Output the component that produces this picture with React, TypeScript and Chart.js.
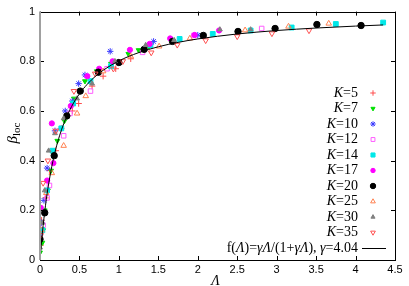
import React, { useEffect, useRef } from "react";
import { Chart, registerables } from "chart.js";
import { drawPoint } from "chart.js/helpers";

Chart.register(...registerables);

// ---- data (Λ, β_loc) ----
const kLabels = ["5", "7", "10", "12", "14", "17", "20", "25", "30", "35"];

const k5: [number, number][] = [[0.01, 0.06], [0.02, 0.16], [0.07, 0.25], [0.12, 0.36], [0.2, 0.44], [0.27, 0.53], [0.41, 0.6], [0.49, 0.63], [0.66, 0.7], [0.8, 0.74], [0.96, 0.77], [1.15, 0.81]];
const k7: [number, number][] = [[0, 0.03], [0.03, 0.07], [0.04, 0.12], [0.06, 0.2], [0.1, 0.28], [0.14, 0.36], [0.22, 0.48], [0.31, 0.56], [0.43, 0.65], [0.57, 0.72], [0.72, 0.76], [0.9, 0.79], [1.12, 0.83], [1.25, 0.845], [1.38, 0.86]];
const k10: [number, number][] = [[0, 0.1], [0.02, 0.15], [0.05, 0.24], [0.09, 0.37], [0.19, 0.52], [0.32, 0.6], [0.41, 0.64], [0.49, 0.71], [0.57, 0.745], [0.89, 0.84], [1.44, 0.88], [2.0, 0.905]];
const k12: [number, number][] = [[0.04, 0.14], [0.09, 0.25], [0.12, 0.3], [0.3, 0.5], [0.38, 0.59], [0.64, 0.68], [0.85, 0.77], [1.3, 0.836], [1.95, 0.904], [2.81, 0.932]];
const k14: [number, number][] = [[0.03, 0.12], [0.09, 0.28], [0.16, 0.44], [0.27, 0.53], [0.42, 0.63], [0.64, 0.72], [0.9, 0.78], [1.4, 0.865], [1.77, 0.89], [2.19, 0.91], [2.67, 0.924], [3.19, 0.936], [3.75, 0.95], [4.35, 0.956]];
const k17: [number, number][] = [[0.01, 0.21], [0.09, 0.32], [0.17, 0.39], [0.15, 0.55], [0.39, 0.62], [0.6, 0.74], [0.75, 0.77], [0.92, 0.8], [1.14, 0.846], [1.39, 0.87], [1.65, 0.892], [1.96, 0.906], [2.27, 0.924]];
const k20: [number, number][] = [[0, 0.084], [0.06, 0.19], [0.18, 0.42], [0.34, 0.58], [0.51, 0.68], [0.74, 0.756], [1.0, 0.795], [1.32, 0.848], [1.68, 0.88], [2.07, 0.904], [2.51, 0.92], [2.98, 0.932], [3.51, 0.948], [4.07, 0.944]];
const k25: [number, number][] = [[0.02, 0.12], [0.08, 0.27], [0.15, 0.35], [0.3, 0.46], [0.47, 0.59], [0.58, 0.66], [0.8, 0.76], [1.15, 0.82], [1.51, 0.86], [1.9, 0.892], [2.6, 0.925], [3.15, 0.94], [3.66, 0.952]];
const k30: [number, number][] = [[0, 0.05], [0.03, 0.15], [0.06, 0.28], [0.11, 0.44], [0.19, 0.51], [0.3, 0.57], [0.47, 0.65], [0.66, 0.71], [0.95, 0.8], [1.34, 0.865], [1.7, 0.885], [2.28, 0.928], [2.67, 0.928]];
const k35: [number, number][] = [[0.01, 0.1], [0.04, 0.31], [0.1, 0.4], [0.2, 0.52], [0.43, 0.68], [0.7, 0.75], [0.93, 0.77], [1.05, 0.8], [1.41, 0.835], [1.74, 0.866], [2.1, 0.884], [2.5, 0.9], [2.94, 0.912], [3.41, 0.924]];

// fitted curve f(Λ)=γΛ/(1+γΛ), γ=4.04 (values tabulated)
const fitLambda = [0, 0.01, 0.02, 0.04, 0.06, 0.08, 0.1, 0.15, 0.2, 0.25, 0.3, 0.4, 0.5, 0.6, 0.7, 0.8, 1.0, 1.25, 1.5, 1.75, 2.0, 2.5, 3.0, 3.5, 4.0, 4.35];
const fitBeta = [0, 0.0388, 0.0748, 0.1391, 0.1951, 0.2443, 0.2877, 0.3773, 0.4469, 0.5025, 0.5479, 0.6177, 0.6689, 0.7079, 0.7388, 0.7637, 0.8016, 0.8347, 0.8584, 0.8761, 0.8899, 0.9099, 0.9238, 0.9339, 0.9417, 0.9462];

const xTicks = [0, 0.5, 1, 1.5, 2, 2.5, 3, 3.5, 4, 4.5];
const yTicks = [0, 0.2, 0.4, 0.6, 0.8, 1];

const seriesData = [k5, k7, k10, k12, k14, k17, k20, k25, k30, k35];
const styles = [
  { color: "#ff4c4c", fill: false, pointStyle: "cross", radius: 3.2, rotation: 0 },
  { color: "#00e000", fill: true, pointStyle: "triangle", radius: 2.8, rotation: 180 },
  { color: "#3a3aff", fill: false, pointStyle: "star", radius: 3.2, rotation: 0 },
  { color: "#ff5cff", fill: false, pointStyle: "rect", radius: 3.2, rotation: 0 },
  { color: "#00e8e8", fill: true, pointStyle: "rect", radius: 3.4, rotation: 0 },
  { color: "#ff00ff", fill: true, pointStyle: "circle", radius: 2.6, rotation: 0 },
  { color: "#000000", fill: true, pointStyle: "circle", radius: 3.2, rotation: 0 },
  { color: "#ff8050", fill: false, pointStyle: "triangle", radius: 3.2, rotation: 0 },
  { color: "#808080", fill: true, pointStyle: "triangle", radius: 2.8, rotation: 0 },
  { color: "#ff5050", fill: false, pointStyle: "triangle", radius: 3.2, rotation: 180 },
];

const SERIF = "'Liberation Serif', 'Times New Roman', serif";
const SANS = "'Liberation Sans', Arial, sans-serif";
const CLEAR = "rgba(255,255,255,0)";

const framePlugin = {
  id: "frame",
  afterDraw(chart: any) {
    const ctx = chart.ctx;
    const { left, right, top, bottom } = chart.chartArea;
    const xs = chart.scales.x;
    const ys = chart.scales.y;
    ctx.save();
    // border
    ctx.strokeStyle = "#000";
    ctx.lineWidth = 1;
    ctx.strokeRect(Math.round(left) + 0.5, Math.round(top) + 0.5, Math.round(right - left), Math.round(bottom - top));
    // ticks inward
    const tl = 4;
    ctx.beginPath();
    xTicks.forEach((v) => {
      const px = Math.round(xs.getPixelForValue(v)) + 0.5;
      ctx.moveTo(px, bottom);
      ctx.lineTo(px, bottom - tl);
      ctx.moveTo(px, top);
      ctx.lineTo(px, top + tl);
    });
    yTicks.forEach((v) => {
      const py = Math.round(ys.getPixelForValue(v)) + 0.5;
      ctx.moveTo(left, py);
      ctx.lineTo(left + tl, py);
      ctx.moveTo(right, py);
      ctx.lineTo(right - tl, py);
    });
    ctx.stroke();
    // gray zero axis at Λ=0
    ctx.strokeStyle = "#a0a0a0";
    ctx.lineWidth = 2;
    ctx.beginPath();
    const x0 = xs.getPixelForValue(0);
    ctx.moveTo(x0, top);
    ctx.lineTo(x0, bottom);
    ctx.stroke();

    // legend
    const rightEdge = 358;
    const symX = 373;
    const rowY0 = 93;
    const rowH = 15.5;
    ctx.textBaseline = "middle";
    ctx.fillStyle = "#000";
    kLabels.forEach((k, i) => {
      const y = rowY0 + i * rowH;
      ctx.font = `14px ${SERIF}`;
      const rest = "=" + k;
      const w1 = ctx.measureText(rest).width;
      ctx.fillStyle = "#000";
      ctx.textAlign = "left";
      ctx.fillText(rest, rightEdge - w1, y);
      ctx.font = `italic 14px ${SERIF}`;
      const wk = ctx.measureText("K").width;
      ctx.fillText("K", rightEdge - w1 - wk, y);
      const s = styles[i];
      ctx.strokeStyle = s.color;
      ctx.fillStyle = s.fill ? s.color : CLEAR;
      ctx.lineWidth = 1;
      drawPoint(ctx, { pointStyle: s.pointStyle, rotation: s.rotation, radius: s.radius * 0.85, borderWidth: 1 } as any, symX, y);
    });
    // fit legend
    const fy = rowY0 + kLabels.length * rowH;
    const parts: [string, boolean][] = [["f(", false], ["Λ", true], [")=", false], ["γΛ", true], ["/(1+", false], ["γΛ", true], ["), ", false], ["γ", true], ["=4.04", false]];
    let total = 0;
    const widths = parts.map(([t, it]) => {
      ctx.font = `${it ? "italic " : ""}14px ${SERIF}`;
      const w = ctx.measureText(t).width;
      total += w;
      return w;
    });
    let cx = rightEdge - total;
    ctx.fillStyle = "#000";
    ctx.textAlign = "left";
    parts.forEach(([t, it], i) => {
      ctx.font = `${it ? "italic " : ""}14px ${SERIF}`;
      ctx.fillText(t, cx, fy);
      cx += widths[i];
    });
    ctx.strokeStyle = "#000";
    ctx.lineWidth = 1;
    ctx.beginPath();
    ctx.moveTo(362, Math.round(fy) + 0.5);
    ctx.lineTo(386, Math.round(fy) + 0.5);
    ctx.stroke();

    // axis titles
    ctx.fillStyle = "#000";
    ctx.font = `italic 14px ${SERIF}`;
    ctx.textAlign = "center";
    ctx.textBaseline = "alphabetic";
    ctx.fillText("Λ", (left + right) / 2 - 2, 285);

    ctx.save();
    ctx.translate(13, 133);
    ctx.rotate(-Math.PI / 2);
    ctx.textBaseline = "middle";
    ctx.font = `italic 15px ${SERIF}`;
    const wb = ctx.measureText("β").width;
    ctx.font = `11px ${SERIF}`;
    const wl = ctx.measureText("loc").width;
    const start = -(wb + wl) / 2;
    ctx.textAlign = "left";
    ctx.font = `italic 15px ${SERIF}`;
    ctx.fillText("β", start, 0);
    ctx.font = `11px ${SERIF}`;
    ctx.fillText("loc", start + wb, 4);
    ctx.restore();

    ctx.restore();
  },
};

export default function App() {
  const ref = useRef<HTMLCanvasElement | null>(null);
  useEffect(() => {
    if (!ref.current) return;
    const datasets: any[] = [
      {
        label: "fit",
        data: fitLambda.map((x, i) => ({ x, y: fitBeta[i] })),
        showLine: true,
        borderColor: "#000",
        borderWidth: 1,
        pointRadius: 0,
        cubicInterpolationMode: "monotone",
        order: 0,
      },
    ];
    seriesData.forEach((d, i) => {
      const s = styles[i];
      const bg = s.fill ? s.color : CLEAR;
      datasets.push({
        label: "K=" + kLabels[i],
        data: d.map(([x, y]) => ({ x, y })),
        pointStyle: s.pointStyle,
        pointRotation: s.rotation,
        rotation: s.rotation,
        pointRadius: s.radius,
        borderColor: s.color,
        pointBorderColor: s.color,
        backgroundColor: bg,
        pointBackgroundColor: bg,
        borderWidth: 1,
        pointBorderWidth: 1,
        showLine: false,
        order: 10 - i,
      });
    });
    const chart = new Chart(ref.current, {
      type: "scatter",
      data: { datasets },
      options: {
        animation: false,
        responsive: false,
        events: [],
        layout: { padding: { left: 0, right: 14, top: 10, bottom: 0 } },
        plugins: { legend: { display: false }, tooltip: { enabled: false } },
        scales: {
          x: {
            type: "linear",
            min: 0,
            max: 4.5,
            afterFit: (s: any) => { s.height = 26; },
            afterBuildTicks: (s: any) => { s.ticks = xTicks.map((v) => ({ value: v })); },
            grid: { display: false, drawTicks: false },
            border: { display: false },
            ticks: {
              autoSkip: false,
              maxRotation: 0,
              padding: 3,
              color: "#000",
              font: { family: SANS, size: 11 },
              callback: (v: any) => String(Math.round(Number(v) * 10) / 10),
            },
          },
          y: {
            type: "linear",
            min: 0,
            max: 1,
            afterFit: (s: any) => { s.width = 40; },
            afterBuildTicks: (s: any) => { s.ticks = yTicks.map((v) => ({ value: v })); },
            grid: { display: false, drawTicks: false },
            border: { display: false },
            ticks: {
              autoSkip: false,
              padding: 5,
              color: "#000",
              font: { family: SANS, size: 11 },
              callback: (v: any) => String(Math.round(Number(v) * 10) / 10),
            },
          },
        },
      },
      plugins: [framePlugin],
    });
    return () => chart.destroy();
  }, []);
  return (
    <div style={{ position: "absolute", left: 0, top: 0, width: 409, height: 286, background: "#fff" }}>
      <canvas ref={ref} width={409} height={286} style={{ width: 409, height: 286, display: "block" }} />
    </div>
  );
}
